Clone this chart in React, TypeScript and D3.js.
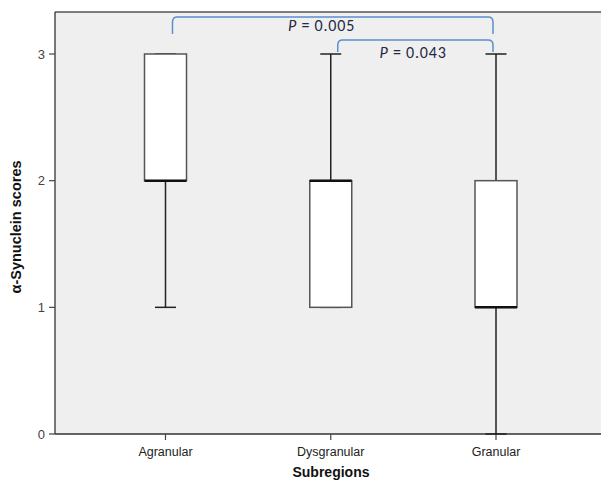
import React from "react";
import * as d3 from "d3";

const categories = ["Agranular", "Dysgranular", "Granular"];
const mins = [1, 1, 0];
const q1s = [2, 1, 1];
const medians = [2, 2, 1];
const q3s = [3, 2, 2];
const maxs = [3, 3, 3];
const yTicks = [0, 1, 2, 3];
const comparisons = [
  { from: 0, to: 2, label: "0.005", level: 0 },
  { from: 1, to: 2, label: "0.043", level: 1 },
];

const W = 601;
const H = 485;
const left = 55;
const right = 601;
const top = 12;
const bottom = 434;

export default function App() {
  const y = d3.scaleLinear().domain([0, 3]).range([bottom, 54]);
  const x = d3.scalePoint<string>().domain(categories).range([165.5, 496]);
  const boxW = 42;
  const capW = 21;
  const font = "'Liberation Sans Narrow', 'Liberation Sans', Arial, sans-serif";

  return (
    <svg width={W} height={H} style={{ position: "absolute", left: 0, top: 0 }}>
      <rect x={0} y={0} width={W} height={H} fill="#fff" />
      <rect x={left} y={top} width={right - left} height={bottom - top} fill="#efefef" />
      <line x1={left} x2={right} y1={top} y2={top} stroke="#555" strokeWidth={1.3} />
      <line x1={left} x2={right} y1={bottom} y2={bottom} stroke="#333" strokeWidth={1.3} />
      <line x1={left} x2={left} y1={top} y2={bottom} stroke="#333" strokeWidth={1.3} />
      {/* y ticks */}
      {yTicks.map((t) => (
        <g key={t}>
          <line x1={left - 6} x2={left} y1={y(t)} y2={y(t)} stroke="#444" strokeWidth={1.2} />
          <text x={left - 10} y={y(t)} dy="0.35em" textAnchor="end" fontSize={13} fill="#444" fontFamily={font}>{t}</text>
        </g>
      ))}
      {/* x ticks */}
      {categories.map((c) => (
        <g key={c}>
          <line x1={x(c)} x2={x(c)} y1={bottom} y2={bottom + 6} stroke="#444" strokeWidth={1.2} />
          <text x={x(c)} y={bottom + 22} textAnchor="middle" fontSize={12.5} fill="#222" fontFamily={font}>{c}</text>
        </g>
      ))}
      {/* boxes */}
      {categories.map((c, i) => {
        const cx = x(c)!;
        return (
          <g key={c}>
            <line x1={cx} x2={cx} y1={y(maxs[i])} y2={y(q3s[i])} stroke="#222" strokeWidth={1.5} />
            <line x1={cx} x2={cx} y1={y(q1s[i])} y2={y(mins[i])} stroke="#222" strokeWidth={1.5} />
            <line x1={cx - capW / 2} x2={cx + capW / 2} y1={y(maxs[i])} y2={y(maxs[i])} stroke="#222" strokeWidth={1.5} />
            <line x1={cx - capW / 2} x2={cx + capW / 2} y1={y(mins[i])} y2={y(mins[i])} stroke="#222" strokeWidth={1.5} />
            <rect x={cx - boxW / 2} y={y(q3s[i])} width={boxW} height={y(q1s[i]) - y(q3s[i])} fill="#fff" stroke="#555" strokeWidth={1.5} />
            <line x1={cx - boxW / 2} x2={cx + boxW / 2} y1={y(medians[i])} y2={y(medians[i])} stroke="#111" strokeWidth={2.5} />
          </g>
        );
      })}
      {/* significance brackets */}
      {comparisons.map((cmp, k) => {
        const x1 = x(categories[cmp.from])! + 7;
        const x2 = x(categories[cmp.to])! - 3;
        const yt = cmp.level === 0 ? 17 : 40;
        const yb = cmp.level === 0 ? 34 : 52;
        const r = 5;
        const d = `M${x1},${yb} L${x1},${yt + r} Q${x1},${yt} ${x1 + r},${yt} L${x2 - r},${yt} Q${x2},${yt} ${x2},${yt + r} L${x2},${yb}`;
        const tx = cmp.level === 0 ? 321.5 : 413;
        const ty = cmp.level === 0 ? 31 : 58;
        return (
          <g key={k}>
            <path d={d} fill="none" stroke="#5b8fd0" strokeWidth={1.5} />
            <text x={tx} y={ty} textAnchor="middle" fontSize={16} letterSpacing={0.8} fill="#1f2a44" fontFamily="Carlito, 'Open Sans', 'Noto Sans', sans-serif">
              <tspan fontStyle="italic">P</tspan> = {cmp.label}
            </text>
          </g>
        );
      })}
      {/* axis titles */}
      <text x={331} y={477} textAnchor="middle" fontSize={14} fontWeight="bold" fill="#111" fontFamily={font}>Subregions</text>
      <text transform={`translate(21,${227}) rotate(-90)`} textAnchor="middle" fontSize={14.5} fontWeight="bold" fill="#111" fontFamily={font}>α-Synuclein scores</text>
    </svg>
  );
}
